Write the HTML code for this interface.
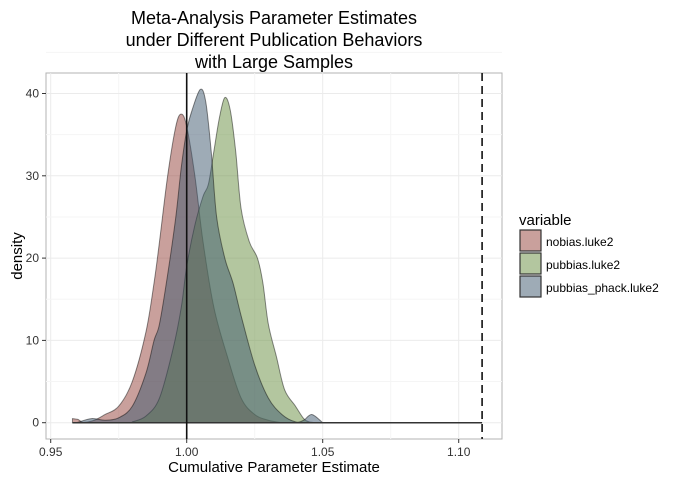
<!DOCTYPE html>
<html><head><meta charset="utf-8"><style>
body{margin:0;background:#fff;font-family:"Liberation Sans",sans-serif}
svg text{font-family:"Liberation Sans",sans-serif}
</style></head><body>
<svg width="691" height="485">
<g font-size="18" text-anchor="middle" fill="#000">
<text x="274" y="24">Meta-Analysis Parameter Estimates</text>
<text x="274" y="46">under Different Publication Behaviors</text>
<text x="274" y="68">with Large Samples</text>
</g>
<rect x="46" y="73" width="456" height="366" fill="#fff" stroke="#b3b3b3"/>
<g id="grid"></g>
<g id="series"></g>
<g id="axes"></g>
<text x="274" y="472" font-size="15" text-anchor="middle">Cumulative Parameter Estimate</text>
<text transform="translate(22,256) rotate(-90)" font-size="15" text-anchor="middle">density</text>
<g>
<text x="519" y="225" font-size="15">variable</text>
<g><rect x="520" y="230" width="21" height="21" fill="#c9a09c" stroke="#333" stroke-width="1.2"/><text x="546" y="246" font-size="12">nobias.luke2</text></g>
<g><rect x="520" y="253" width="21" height="21" fill="#b3c69f" stroke="#333" stroke-width="1.2"/><text x="546" y="269" font-size="12">pubbias.luke2</text></g>
<g><rect x="520" y="276" width="21" height="21" fill="#9eabb6" stroke="#333" stroke-width="1.2"/><text x="546" y="292" font-size="12">pubbias_phack.luke2</text></g>
</g>
</svg>
<script>
const xTicks=[0.95,1.00,1.05,1.10];
const xTickLabels=["0.95","1.00","1.05","1.10"];
const yTicks=[0,10,20,30,40];
const refLine=1.0;
const dashedLine=1.1086;
const nobiasX=[0.958,0.960,0.962,0.966,0.970,0.975,0.980,0.985,0.988,0.990,0.993,0.996,0.998,1.000,1.003,1.006,1.010,1.015,1.020,1.025,1.030,1.035];
const nobiasY=[0.5,0.4,0.05,0.3,1,2,5,11,17,22,30,36,37.5,36,30,22,14,8,3,1,0.3,0];
const pubbiasX=[0.980,0.985,0.990,0.995,0.998,1.000,1.003,1.006,1.008,1.010,1.012,1.014,1.016,1.018,1.020,1.023,1.026,1.028,1.030,1.033,1.036,1.040,1.043,1.045,1.048];
const pubbiasY=[0.1,0.8,3,9,14,19,24,27.5,29,33,37,39.5,38,33,26,22,20,17,12,8,4,2,0.5,0.1,0];
const phackX=[0.960,0.965,0.970,0.975,0.980,0.985,0.988,0.990,0.993,0.996,0.998,1.000,1.002,1.005,1.007,1.009,1.011,1.014,1.017,1.020,1.025,1.030,1.035,1.040,1.043,1.046,1.050];
const phackY=[0.05,0.5,0.3,0.6,2,6,10,12,18,25,31,35.5,38,40.5,39,33,25,20,17,13,7,3,1,0.1,0.3,1,0];
const NS="http://www.w3.org/2000/svg";
const sx=v=>186.7+(v-1)*2720;
const sy=v=>422.7-v*8.23;
function mk(t,a,p){const e=document.createElementNS(NS,t);for(const k in a)e.setAttribute(k,a[k]);p.appendChild(e);return e;}
const grid=document.getElementById('grid'),axes=document.getElementById('axes'),ser=document.getElementById('series');
for(let i=0;i<xTicks.length;i++){
 const l=mk('line',{x1:sx(xTicks[i]),x2:sx(xTicks[i]),y1:73,y2:439,stroke:'#ebebeb'},grid);
 
 if(i<xTicks.length-1){const m=mk('line',{x1:sx(xTicks[i]+0.025),x2:sx(xTicks[i]+0.025),y1:73,y2:439,stroke:'#f5f5f5'},grid);
 }
 const t=mk('line',{x1:sx(xTicks[i]),x2:sx(xTicks[i]),y1:439,y2:443,stroke:'#333'},axes);
 
 const tx=mk('text',{x:sx(xTicks[i]),y:456,'font-size':12,'text-anchor':'middle',fill:'#333'},axes);tx.textContent=xTickLabels[i];
 
}
for(let i=0;i<yTicks.length;i++){
 const l=mk('line',{x1:46,x2:502,y1:sy(yTicks[i]),y2:sy(yTicks[i]),stroke:'#ebebeb'},grid);
 
 const m=mk('line',{x1:46,x2:502,y1:sy(yTicks[i]+5),y2:sy(yTicks[i]+5),stroke:'#f5f5f5'},grid);
 
 const t=mk('line',{x1:42,x2:46,y1:sy(yTicks[i]),y2:sy(yTicks[i]),stroke:'#333'},axes);
 
 const tx=mk('text',{x:39,y:sy(yTicks[i])+4,'font-size':12,'text-anchor':'end',fill:'#333'},axes);tx.textContent=yTicks[i];
 
}
function smooth(xs,ys){
 const P=xs.map((x,i)=>[sx(x),sy(ys[i])]);
 let d='M'+sx(xs[0])+','+sy(0)+'L'+P[0][0]+','+P[0][1];
 for(let i=0;i<P.length-1;i++){
  const p0=P[Math.max(0,i-1)],p1=P[i],p2=P[i+1],p3=P[Math.min(P.length-1,i+2)];
  const c1=[p1[0]+(p2[0]-p0[0])/6,p1[1]+(p2[1]-p0[1])/6],c2=[p2[0]-(p3[0]-p1[0])/6,p2[1]-(p3[1]-p1[1])/6];
  d+='C'+c1[0]+','+c1[1]+' '+c2[0]+','+c2[1]+' '+p2[0]+','+p2[1];
 }
 return d+'L'+sx(xs[xs.length-1])+','+sy(0)+'Z';
}
const defs=[[nobiasX,nobiasY,'rgb(147,65,57)','density-nobias'],[pubbiasX,pubbiasY,'rgb(103,141,63)','density-pubbias'],[phackX,phackY,'rgb(61,87,109)','density-pubbias-phack']];
for(const [xs,ys,c,n] of defs){
 const p=mk('path',{d:smooth(xs,ys),fill:c,'fill-opacity':0.5,stroke:'rgba(0,0,0,0.45)','stroke-width':1},ser);
 
}
const base=mk('line',{x1:sx(0.958),x2:sx(dashedLine),y1:sy(0),y2:sy(0),stroke:'#333','stroke-width':1.5},ser);

const rl=mk('line',{x1:sx(refLine),x2:sx(refLine),y1:73,y2:439,stroke:'#111','stroke-width':1.6},ser);

const dl=mk('line',{x1:sx(dashedLine),x2:sx(dashedLine),y1:73,y2:439,stroke:'#111','stroke-width':1.6,'stroke-dasharray':'8,5'},ser);

</script>
</body></html>
